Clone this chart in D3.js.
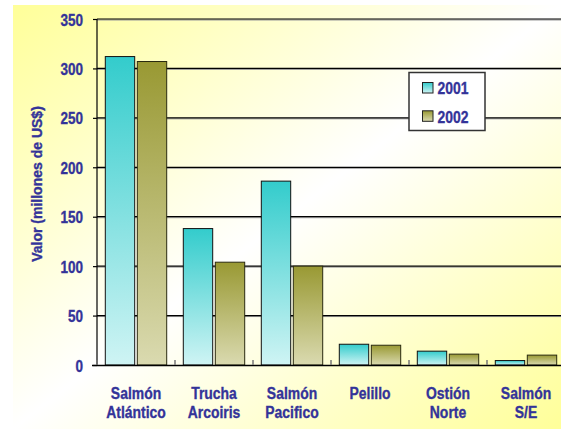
<!DOCTYPE html>
<html><head><meta charset="utf-8">
<script src="https://cdn.jsdelivr.net/npm/d3@7"></script>
<style>body{margin:0;background:#fff}svg{display:block}text{stroke:#333399;stroke-width:0.35px}</style>
</head><body>
<script>
const categories = [["Salmón","Atlántico"],["Trucha","Arcoiris"],["Salmón","Pacifico"],["Pelillo"],["Ostión","Norte"],["Salmón","S/E"]];
const seriesNames = ["2001","2002"];
const values2001 = [312, 138, 186, 21, 14, 4.5];
const values2002 = [307, 104, 100, 20, 11, 10];
const yTicks = [0,50,100,150,200,250,300,350];
const yLabel = "Valor (millones de US$)";

(function(){
const W=561,H=429;
const svg=d3.select("body").append("svg").attr("width",W).attr("height",H);
const defs=svg.append("defs");
const bg=defs.append("linearGradient").attr("id","bg").attr("x1",0).attr("y1",0).attr("x2",1).attr("y2",1);
bg.append("stop").attr("offset",0).attr("stop-color","#FFFF99");
bg.append("stop").attr("offset",0.5).attr("stop-color","#FFFFFF");
bg.append("stop").attr("offset",1).attr("stop-color","#FFFF99");
const grads={"2001":["#33CCCC","#CFF4F4"],"2002":["#999933","#DADAB0"]};
Object.entries(grads).forEach(([k,c])=>{
  const g=defs.append("linearGradient").attr("id","g"+k).attr("x1",0).attr("y1",0).attr("x2",0).attr("y2",1);
  g.append("stop").attr("offset",0).attr("stop-color",c[0]);
  g.append("stop").attr("offset",1).attr("stop-color",c[1]);
});
svg.append("rect").attr("x",13).attr("y",5).attr("width",W-13).attr("height",H-5).attr("fill","url(#bg)");

const pL=97,pR=565,pT=19,pB=365;
const x0=d3.scaleBand().domain(categories.map((d,i)=>i)).range([pL,pR]).padding(0);
const x1=d3.scaleBand().domain(seriesNames).range([8.3,69.7]).paddingInner(0.0815);
const y=d3.scaleLinear().domain([0,350]).range([pB,pT]);
const txt="#333399";
const FONT="'Liberation Sans', Arial, sans-serif";

// gridlines
const gl=svg.append("g");
yTicks.filter(t=>t>0).forEach(t=>{
  gl.append("line").attr("x1",pL).attr("x2",pR).attr("y1",y(t)+1).attr("y2",y(t)+1).attr("stroke","#9a9a9a").attr("stroke-width",1);
  gl.append("line").attr("x1",pL).attr("x2",pR).attr("y1",y(t)).attr("y2",y(t)).attr("stroke","#000").attr("stroke-width",1.2);
});

// y axis
const ya=svg.append("g").attr("transform",`translate(${pL},0)`)
  .call(d3.axisLeft(y).tickValues(yTicks).tickSize(4).tickFormat(""));
ya.selectAll("path,line").attr("stroke","#000").attr("stroke-width",1.2);
ya.select("path").attr("d",`M0,${pT}V${pB}`);

// tick labels
yTicks.forEach(t=>{
  svg.append("text").attr("transform",`translate(83,${y(t)+6.5}) scale(0.82,1)`)
    .attr("text-anchor","end").attr("font-family",FONT).attr("font-weight","bold")
    .attr("font-size",16.5).attr("fill",txt).text(t);
});

// bars
const data=categories.map((c,i)=>({i,vals:[{k:"2001",v:values2001[i]},{k:"2002",v:values2002[i]}]}));
const cg=svg.selectAll("g.cat").data(data).join("g").attr("class","cat").attr("transform",d=>`translate(${x0(d.i)},0)`);
cg.selectAll("rect").data(d=>d.vals).join("rect")
  .attr("x",d=>x1(d.k)).attr("width",x1.bandwidth())
  .attr("y",d=>y(d.v)).attr("height",d=>y(0)-y(d.v))
  .attr("fill",d=>`url(#g${d.k})`).attr("stroke",d=>d.k==="2001"?"#111":"#2a2a10").attr("stroke-width",1);

// x axis
svg.append("line").attr("x1",92).attr("x2",pR).attr("y1",pB+0.5).attr("y2",pB+0.5).attr("stroke","#000").attr("stroke-width",1.6);
const xa=svg.append("g").attr("transform",`translate(0,${pB})`)
  .call(d3.axisBottom(x0).tickSize(-5).tickFormat(""));
xa.select("path").remove();
xa.selectAll(".tick line").attr("stroke","#777").attr("stroke-width",1.5).attr("transform",`translate(${-x0.bandwidth()/2},0)`);

// x labels
categories.forEach((c,i)=>{
  const cx=x0(i)+x0.bandwidth()/2;
  c.forEach((s,j)=>{
    svg.append("text").attr("transform",`translate(${cx},${399+j*18.5}) scale(0.82,1)`)
      .attr("text-anchor","middle").attr("font-family",FONT).attr("font-weight","bold")
      .attr("font-size",17).attr("fill",txt).text(s);
  });
});

// y label
svg.append("text").attr("transform","translate(42,184) rotate(-90)")
  .attr("text-anchor","middle").attr("font-family",FONT).attr("font-weight","bold")
  .attr("font-size",14).attr("fill",txt).text(yLabel);

// legend
const lg=svg.append("g");
lg.append("rect").attr("x",409).attr("y",72.5).attr("width",76).attr("height",58).attr("fill","#fff").attr("stroke","#333").attr("stroke-width",1.5);
seriesNames.forEach((s,i)=>{
  const yy=82+i*28.3;
  lg.append("rect").attr("x",422.5).attr("y",yy+0.5).attr("width",10.5).attr("height",10.5)
    .attr("fill",`url(#g${s})`).attr("stroke","#222").attr("stroke-width",1);
  lg.append("text").attr("transform",`translate(437.5,${yy+12.3}) scale(0.82,1)`)
    .attr("font-family",FONT).attr("font-weight","bold").attr("font-size",17).attr("fill",txt).text(s);
});
})();
</script>
</body></html>
